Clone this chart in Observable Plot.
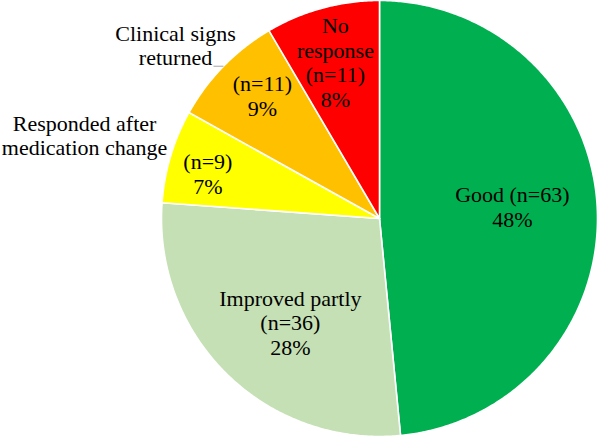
<!DOCTYPE html>
<html>
<head>
<meta charset="utf-8">
<script src="https://cdn.jsdelivr.net/npm/d3@7"></script>
<script src="https://cdn.jsdelivr.net/npm/@observablehq/plot@0.6"></script>
<style>
  html, body { margin: 0; padding: 0; background: #ffffff; }
  #chart svg { display: block; overflow: visible; }
</style>
</head>
<body>
<div id="chart"></div>
<script>
// Treatment response, number of patients per outcome
const categories = ["Good", "Improved partly", "Responded after medication change", "Clinical signs returned", "No response"];
const counts = [63, 36, 9, 11, 11];
const percentLabels = ["48%", "28%", "7%", "9%", "8%"];
const displayNames = ["Good", "Improved partly", "Responded after\nmedication change", "Clinical signs\nreturned", "No\nresponse"];
const sliceColors = ["#00b050", "#c5e0b4", "#ffff00", "#ffc000", "#ff0000"];

// Label placement: radius (fraction of pie radius) and angular nudge (degrees);
// "outside" names sit beyond the rim, offset in pixels from the slice's rim midpoint.
const labelLayout = {
  "Good": {mode: "inline", r: 0.612, dAngle: -2.4},
  "Improved partly": {mode: "stacked", r: 0.628, dAngle: -3.7},
  "Responded after medication change": {mode: "outside", r: 0.814, dAngle: -1.9, outDx: -86, outDy: -21},
  "Clinical signs returned": {mode: "outside", r: 0.779, dAngle: 2.1, outDx: -48, outDy: -21, leader: 10},
  "No response": {mode: "stacked", r: 0.746, dAngle: -0.5}
};

const W = 598, H = 436;
const R = 218;             // pie radius in pixels
const cx = 379, cy = 218;  // pie centre in pixels
const px = R;              // pixels per unit
const serif = "Liberation Serif";

const rows = categories.map((c, i) => ({category: c, n: counts[i], pct: percentLabels[i], name: displayNames[i]}));
const arcs = d3.pie().sort(null).value(d => d.n).startAngle(0).endAngle(2 * Math.PI)(rows);

const pt = (a, r) => [r * Math.sin(a), r * Math.cos(a)];

// Slice outlines: centre -> arc -> centre
const slicePts = [];
for (const a of arcs) {
  const steps = Math.max(4, Math.ceil((a.endAngle - a.startAngle) / (Math.PI / 360)));
  slicePts.push({category: a.data.category, x: 0, y: 0});
  for (let k = 0; k <= steps; k++) {
    const t = a.startAngle + (a.endAngle - a.startAngle) * k / steps;
    const [x, y] = pt(t, 1);
    slicePts.push({category: a.data.category, x, y});
  }
  slicePts.push({category: a.data.category, x: 0, y: 0});
}

const insideLabels = [];
const outsideLabels = [];
const leaders = [];
for (const a of arcs) {
  const d = a.data;
  const L = labelLayout[d.category];
  const mid = (a.startAngle + a.endAngle) / 2;
  const [x, y] = pt(mid + L.dAngle * Math.PI / 180, L.r);
  let text;
  if (L.mode === "inline") text = `${d.name} (n=${d.n})\n${d.pct}`;
  else if (L.mode === "stacked") text = `${d.name}\n(n=${d.n})\n${d.pct}`;
  else text = `(n=${d.n})\n${d.pct}`;
  insideLabels.push({x, y, text});
  if (L.mode === "outside") {
    const [ex, ey] = pt(mid, 1);
    outsideLabels.push({x: ex + L.outDx / px, y: ey - L.outDy / px, text: d.name});
    if (L.leader) leaders.push({x1: ex, y1: ey, x2: ex - L.leader / px, y2: ey});
  }
}

const chart = Plot.plot({
  width: W,
  height: H,
  margin: 0,
  x: {domain: [-1, 1], range: [cx - R, cx + R], axis: null},
  y: {domain: [-1, 1], range: [cy + R, cy - R], axis: null},
  color: {domain: categories, range: sliceColors},
  style: {background: "#ffffff"},
  marks: [
    Plot.line(slicePts, {x: "x", y: "y", z: "category", fill: "category", stroke: "#ffffff", strokeWidth: 1.6, strokeLinejoin: "round", curve: "linear"}),
    Plot.link(leaders, {x1: "x1", y1: "y1", x2: "x2", y2: "y2", stroke: "#a6a6a6", strokeWidth: 1}),
    Plot.text(insideLabels, {x: "x", y: "y", text: "text", fontFamily: serif, fontSize: 22, lineHeight: 1.12, fill: "#000000"}),
    Plot.text(outsideLabels, {x: "x", y: "y", text: "text", fontFamily: serif, fontSize: 22, lineHeight: 1.12, fill: "#000000"})
  ]
});

document.getElementById("chart").appendChild(chart);
</script>
</body>
</html>
